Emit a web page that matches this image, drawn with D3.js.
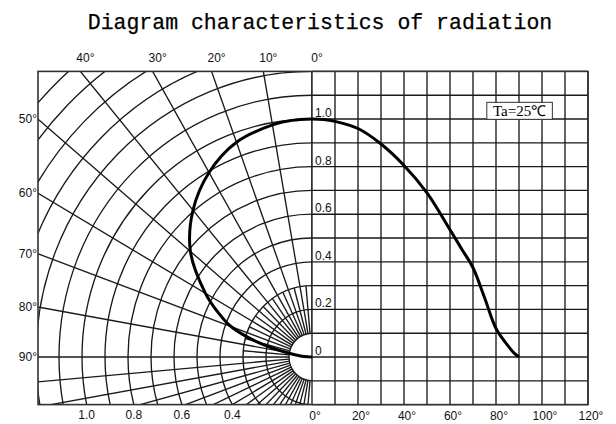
<!DOCTYPE html>
<html>
<head>
<meta charset="utf-8">
<script src="https://cdn.jsdelivr.net/npm/d3@7"></script>
<style>
  body { margin: 0; background: #fff; }
  .tick { font-family: "Liberation Sans", Arial, sans-serif; font-size: 12px; fill: #111; }
</style>
</head>
<body>
<div id="chart"><svg width="616" height="424"></svg></div>
<script>
// relative intensity vs. angle
const angles = [0, 5, 10, 20, 30, 40, 50, 60, 65, 70, 75, 80, 85, 88, 90];
const intensity = [1.0, 0.998, 0.99, 0.96, 0.895, 0.805, 0.69, 0.535, 0.455, 0.375, 0.25, 0.12, 0.05, 0.015, 0];

const topAngleLabels = [40, 30, 20, 10, 0];
const leftAngleLabels = [50, 60, 70, 80, 90];
const radiusLabels = [1.0, 0.8, 0.6, 0.4];
const valueLabels = [1.0, 0.8, 0.6, 0.4, 0.2, 0];
const degreeLabels = [0, 20, 40, 60, 80, 100, 120];

const data = angles.map((a, i) => ({angle: a, value: intensity[i]}));

/**********************
***** BASIC SETUP *****
**********************/
const svg = d3.select("#chart").select("svg");

const gridColor = "#1a1a1a";

// right half: rectangular grid
let xScale = d3.scaleLinear().domain([0, 120]).range([312, 588]);
let yScale = d3.scaleLinear().domain([0, 1]).range([357, 119]);

const cx = xScale(0), cy = yScale(0);
const fLeft = 38, fTop = yScale(1.2), fBottom = yScale(-0.2), fRight = xScale(120);

// left half: polar grid (picture is a bit squeezed horizontally)
let rX = d3.scaleLinear().domain([0, 1]).range([0, 230]);
let rY = d3.scaleLinear().domain([0, 1]).range([0, cy - yScale(1)]);
const rad = d => d * Math.PI / 180;
const px = (r, a) => cx - rX(r) * Math.sin(rad(a));
const py = (r, a) => cy - rY(r) * Math.cos(rad(a));

svg.append("clipPath").attr("id", "polarClip")
    .append("rect")
    .attr("x", fLeft).attr("y", fTop)
    .attr("width", cx - fLeft).attr("height", fBottom - fTop);

/************************
***** POLAR GRIDLINES ****
************************/
const polar = svg.append("g").attr("clip-path", "url(#polarClip)")
    .attr("stroke", gridColor).attr("stroke-width", 1.35).attr("fill", "none");

polar.selectAll(".arc")
    .data(d3.range(1, 17).map(k => k / 10))
    .enter().append("ellipse")
    .attr("cx", cx).attr("cy", cy)
    .attr("rx", d => rX(d)).attr("ry", d => rY(d));

// long spokes every 10 deg, short ones in between, all spokes below 90 deg
let spokes = [];
d3.range(0, 91, 10).forEach(a => spokes.push({a: a, r: 3}));
d3.range(5, 90, 10).forEach(a => spokes.push({a: a, r: 0.3}));
d3.range(95, 180, 5).forEach(a => spokes.push({a: a, r: 3}));

polar.selectAll(".spoke")
    .data(spokes)
    .enter().append("line")
    .attr("x1", d => px(0.1, d.a)).attr("y1", d => py(0.1, d.a))
    .attr("x2", d => px(d.r, d.a)).attr("y2", d => py(d.r, d.a));

/***********************
***** RECT GRIDLINES ****
***********************/
const rect = svg.append("g").attr("stroke", gridColor).attr("stroke-width", 1.35);

rect.selectAll(".vline")
    .data(d3.range(0, 121, 10))
    .enter().append("line")
    .attr("x1", d => xScale(d)).attr("x2", d => xScale(d))
    .attr("y1", fTop).attr("y2", fBottom);

rect.selectAll(".hline")
    .data(d3.range(-2, 13).map(k => k / 10))
    .enter().append("line")
    .attr("x1", cx).attr("x2", fRight)
    .attr("y1", d => yScale(d)).attr("y2", d => yScale(d));

// frame
svg.append("rect")
    .attr("x", fLeft).attr("y", fTop)
    .attr("width", fRight - fLeft).attr("height", fBottom - fTop)
    .attr("fill", "none").attr("stroke", "#333").attr("stroke-width", 1.6);

/*******************
***** CURVES *******
*******************/
svg.append("path")
    .datum(data)
    .attr("fill", "none").attr("stroke", "#000").attr("stroke-width", 3)
    .attr("d", d3.line()
        .x(d => xScale(d.angle))
        .y(d => yScale(d.value))
        .curve(d3.curveCatmullRom));

svg.append("path")
    .datum(data)
    .attr("fill", "none").attr("stroke", "#000").attr("stroke-width", 3)
    .attr("d", d3.line()
        .x(d => px(d.value, d.angle))
        .y(d => py(d.value, d.angle))
        .curve(d3.curveCatmullRom));

/*******************
***** LABELS *******
*******************/
svg.selectAll(".topLabel")
    .data(topAngleLabels)
    .enter().append("text")
    .attr("class", "tick")
    .attr("text-anchor", "middle")
    .attr("x", d => cx - (cy - fTop) * Math.tan(rad(d)) * rX(1) / rY(1) + 5)
    .attr("y", fTop - 9)
    .text(d => d + "°");

svg.selectAll(".leftLabel")
    .data(leftAngleLabels)
    .enter().append("text")
    .attr("class", "tick")
    .attr("text-anchor", "end")
    .attr("x", fLeft - 1)
    .attr("y", d => cy - (cx - fLeft) / Math.tan(rad(d)) * rY(1) / rX(1) + 4)
    .text(d => d + "°");

svg.selectAll(".radLabel")
    .data(radiusLabels)
    .enter().append("text")
    .attr("class", "tick")
    .attr("text-anchor", "middle")
    .attr("x", d => cx - rX(Math.sqrt(d * d - Math.pow((fBottom - cy) / rY(1), 2))))
    .attr("y", fBottom + 14)
    .text(d => d3.format(".1f")(d));

svg.selectAll(".valLabel")
    .data(valueLabels)
    .enter().append("text")
    .attr("class", "tick")
    .attr("x", cx + 3)
    .attr("y", d => yScale(d) - 2)
    .text(d => d === 0 ? "0" : d3.format(".1f")(d));

svg.selectAll(".degLabel")
    .data(degreeLabels)
    .enter().append("text")
    .attr("class", "tick")
    .attr("text-anchor", "middle")
    .attr("x", d => xScale(d) + 3)
    .attr("y", fBottom + 15)
    .text(d => d + "°");

// Ta box
const box = svg.append("g");
box.append("rect")
    .attr("x", xScale(76)).attr("y", yScale(1.07))
    .attr("width", xScale(104.5) - xScale(76)).attr("height", 17)
    .attr("fill", "#fff").attr("stroke", "#333").attr("stroke-width", 1);
box.append("text")
    .attr("x", (xScale(76) + xScale(104.5)) / 2).attr("y", yScale(1.07) + 14)
    .attr("text-anchor", "middle")
    .style("font-family", "'Liberation Serif', serif")
    .style("font-size", "15px")
    .text("Ta=25℃");

// title
svg.append("text")
    .attr("x", 320).attr("y", 29)
    .attr("text-anchor", "middle")
    .style("font-family", "'Liberation Mono', monospace")
    .style("font-size", "21.5px")
    .attr("stroke", "#000").attr("stroke-width", 0.25)
    .text("Diagram characteristics of radiation");
</script>
</body>
</html>
